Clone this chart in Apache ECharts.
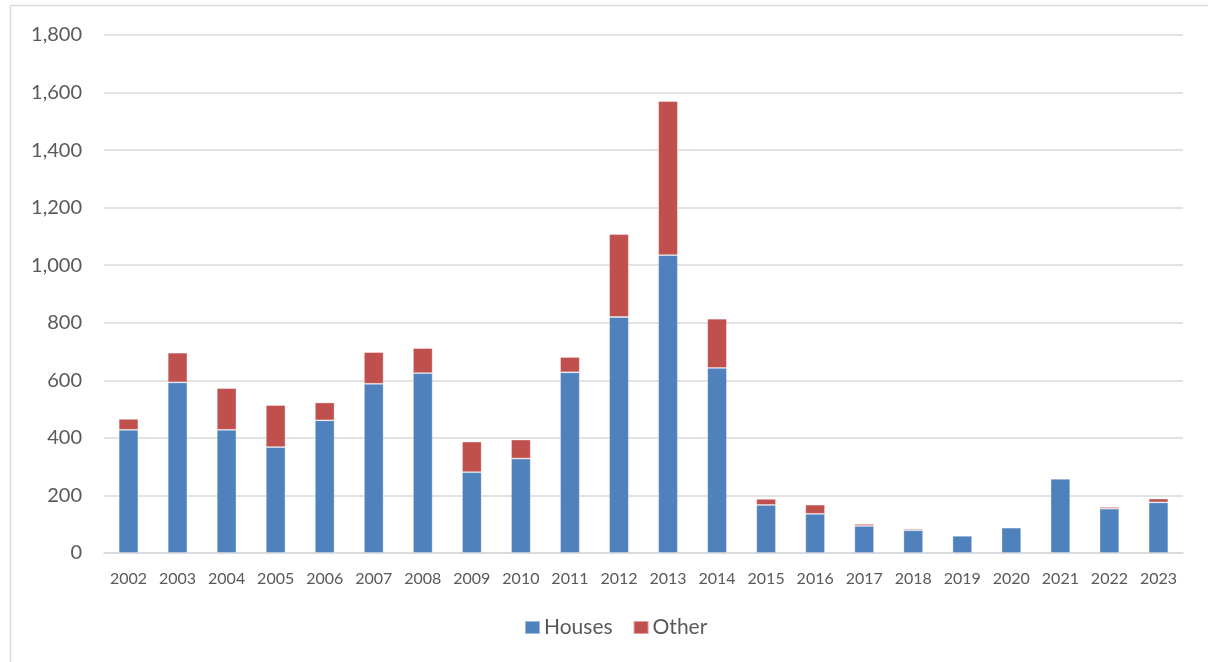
<!DOCTYPE html>
<html>
<head>
<meta charset="utf-8">
<script src="https://cdn.jsdelivr.net/npm/echarts@6/dist/echarts.min.js"></script>
<style>
  html, body { margin: 0; padding: 0; background: #ffffff; }
  #chart { width: 1208px; height: 662px; }
</style>
</head>
<body>
<div id="chart"></div>
<script>
// Years on the category axis
const years = ['2002','2003','2004','2005','2006','2007','2008','2009','2010','2011','2012',
               '2013','2014','2015','2016','2017','2018','2019','2020','2021','2022','2023'];

// Stacked series values
const houses = [428, 593, 428, 368, 461, 588, 625, 281, 328, 628, 820,
                1035, 643, 167, 136, 94, 79, 60, 88, 258, 154, 176];
const other  = [38, 103, 145, 146, 62, 110, 87, 106, 66, 53, 288,
                535, 171, 21, 32, 7, 5, 0, 2, 2, 6, 13];

// Value axis range
const yMin = 0, yMax = 1800, yStep = 200;

const FONT = 'Lato, "Open Sans", sans-serif';
const TEXT = '#595959';

const chart = echarts.init(document.getElementById('chart'), null, { renderer: 'canvas' });

chart.setOption({
  animation: false,
  backgroundColor: '#ffffff',
  textStyle: { fontFamily: FONT },
  graphic: [
    // frame around the chart area (top and left edges)
    { type: 'line', shape: { x1: 10, y1: 5.5, x2: 1208, y2: 5.5 },
      style: { stroke: '#d9d9d9', lineWidth: 1.5 } },
    { type: 'line', shape: { x1: 10.5, y1: 5, x2: 10.5, y2: 662 },
      style: { stroke: '#d9d9d9', lineWidth: 1.5 } }
  ],
  grid: { left: 104, right: 25, top: 35, bottom: 109, containLabel: false },
  legend: {
    bottom: 19,
    left: 519,
    itemWidth: 15,
    itemHeight: 13,
    itemGap: 20,
    icon: 'rect',
    textStyle: { fontFamily: FONT, fontSize: 21, color: TEXT, padding: [0, 0, 0, -1] },
    data: ['Houses', 'Other']
  },
  xAxis: {
    type: 'category',
    data: years,
    axisLine: { show: true, lineStyle: { color: '#d9d9d9', width: 1.5 } },
    axisTick: { show: false },
    axisLabel: { fontFamily: FONT, fontSize: 16, color: TEXT, margin: 18, interval: 0 }
  },
  yAxis: {
    type: 'value',
    min: yMin,
    max: yMax,
    interval: yStep,
    axisLine: { show: false },
    axisTick: { show: false },
    splitLine: { lineStyle: { color: '#d9d9d9', width: 1.5 } },
    axisLabel: {
      fontFamily: FONT, fontSize: 20, color: TEXT, margin: 22,
      formatter: v => v.toLocaleString('en-US')
    }
  },
  series: [
    {
      name: 'Houses',
      type: 'bar',
      stack: 'total',
      data: houses,
      barWidth: '40%',
      itemStyle: { color: '#4F81BD', borderColor: 'rgba(255,255,255,0.45)', borderWidth: 0.8 }
    },
    {
      name: 'Other',
      type: 'bar',
      stack: 'total',
      data: other,
      barWidth: '40%',
      itemStyle: { color: '#C0504D', borderColor: 'rgba(255,255,255,0.45)', borderWidth: 0.8 }
    }
  ]
});
</script>
</body>
</html>
